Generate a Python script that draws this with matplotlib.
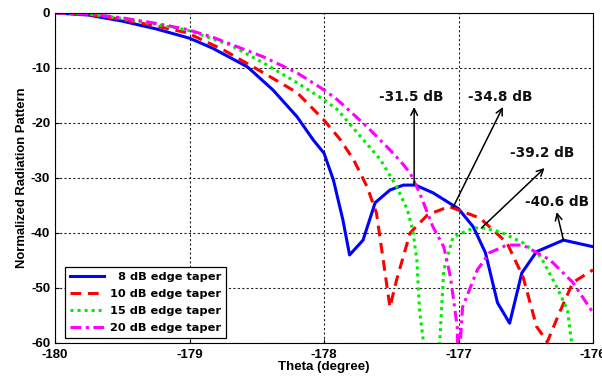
import numpy as np
import matplotlib
matplotlib.use('Agg')
import matplotlib.pyplot as plt

plt.rcParams['axes.unicode_minus'] = False

# readings from the reference picture (theta in degree, pattern in dB)
theta_8 = [-180, -179.75, -179.5, -179.25, -179.0, -178.83, -178.57, -178.38, -178.2,
           -178.08, -178.0, -177.93, -177.86, -177.81, -177.71, -177.62, -177.51,
           -177.41, -177.32, -177.19, -177.0, -176.89, -176.8, -176.71, -176.62,
           -176.53, -176.42, -176.22, -176.0]
gain_8 = [0, -0.4, -1.5, -2.9, -4.6, -6.4, -9.8, -14.0, -18.9,
          -23.1, -25.5, -30.4, -37.6, -44.0, -41.3, -34.5, -32.2,
          -31.3, -31.3, -32.7, -35.6, -38.9, -43.6, -52.7, -56.4,
          -47.3, -43.4, -41.3, -42.5]

theta_10 = [-180, -179.75, -179.5, -179.25, -179.02, -178.75, -178.45, -178.2, -178.0,
            -177.88, -177.78, -177.68, -177.61, -177.56, -177.51, -177.46, -177.36,
            -177.23, -177.07, -176.84, -176.64, -176.52, -176.42, -176.34, -176.25,
            -176.15, -176.0]
gain_10 = [0, -0.3, -1.2, -2.4, -3.6, -6.7, -10.9, -14.5, -19.5,
           -23.0, -26.7, -31.6, -36.4, -44.9, -53.5, -48.5, -40.0,
           -36.7, -35.2, -37.3, -41.8, -48.0, -57.0, -59.8, -54.5,
           -49.0, -46.7]

theta_15 = [-180, -179.75, -179.5, -179.25, -179.02, -178.7, -178.45, -178.2, -178.0,
            -177.9, -177.58, -177.46, -177.38, -177.34, -177.31, -177.29, -177.26,
            -177.2, -177.14, -177.11, -177.04, -176.89, -176.82, -176.69, -176.52,
            -176.39, -176.27, -176.19, -176.16, -176.13]
gain_15 = [0, -0.2, -1.0, -2.1, -3.1, -5.8, -9.1, -12.7, -15.8,
           -17.6, -26.7, -31.6, -35.8, -39.5, -44.9, -54.0, -60.0,
           -70.0, -60.0, -46.7, -40.7, -39.1, -39.1, -39.8, -41.8,
           -44.3, -49.8, -54.0, -59.8, -68.0]

theta_20 = [-180, -179.75, -179.5, -179.25, -179.02, -178.83, -178.45, -178.2, -178.0,
            -177.9, -177.68, -177.51, -177.43, -177.36, -177.29, -177.19, -177.11,
            -177.06, -177.01, -177.0, -176.97, -176.86, -176.77, -176.64, -176.52,
            -176.32, -176.15, -176.0]
gain_20 = [0, -0.2, -0.9, -1.9, -3.0, -4.4, -8.0, -10.9, -14.0,
           -15.8, -20.7, -24.9, -27.0, -29.1, -32.7, -38.9, -42.5,
           -48.0, -57.0, -65.0, -53.5, -46.7, -43.6, -42.2, -42.2,
           -44.9, -49.0, -54.5]

labels = ['  8 dB edge taper', '10 dB edge taper', '15 dB edge taper', '20 dB edge taper']

# annotation text, arrow tip and tail point
notes = ['-31.5 dB', '-34.8 dB', '-39.2 dB', '-40.6 dB']
note_xy = [(-177.35, -15.3), (-176.69, -15.3), (-176.38, -25.5), (-176.27, -34.4)]
tip_xy = [(-177.33, -17.1), (-176.67, -17.1), (-176.36, -28.2), (-176.27, -36.2)]
tail_xy = [(-177.33, -31.3), (-177.04, -35.3), (-176.83, -39.1), (-176.22, -41.3)]

fig = plt.figure(figsize=(6.02, 3.79), dpi=100)
ax = fig.add_axes([0.0914, 0.095, 0.8937, 0.871])

ax.plot(theta_8, gain_8, color='#0000ff', lw=2.2, ls='-', label=labels[0])
ax.plot(theta_10, gain_10, color='#ff0000', lw=2.2, ls=(0, (3.5, 2.2)), label=labels[1])
ax.plot(theta_15, gain_15, color='#00ee00', lw=2.2, ls=(0, (1, 1.3)), label=labels[2])
ax.plot(theta_20, gain_20, color='#ff00ff', lw=2.2, ls=(0, (3.5, 1.5, 1, 1.5)), label=labels[3])

for txt, nxy, txy, sxy in zip(notes, note_xy, tip_xy, tail_xy):
    ax.annotate('', xy=txy, xytext=sxy,
                arrowprops=dict(arrowstyle='->', lw=1.1, color='black',
                                shrinkA=0, shrinkB=0, mutation_scale=12))
    ax.text(nxy[0], nxy[1], txt, ha='center', va='center', fontsize=9.8,
            fontweight='bold', family='DejaVu Sans', color='#111111')

ax.set_xlim(-180, -176)
ax.set_ylim(-60, 0)
ax.set_xticks(np.arange(-180, -175, 1))
ax.set_yticks(np.arange(-60, 1, 10))
ax.grid(True, ls=(0, (2, 2)), color='#222222', lw=0.8)
ax.tick_params(direction='in', length=3, labelsize=9.5, width=0.8, pad=2.5)
ax.tick_params(axis='x', pad=4)
ax.tick_params(axis='y', pad=3.5)
for lab in ax.get_xticklabels() + ax.get_yticklabels():
    lab.set_fontweight('bold')
    lab.set_family('Liberation Sans')
for sp in ax.spines.values():
    sp.set_linewidth(0.8)

ax.set_xlabel('Theta (degree)', fontsize=9.6, fontweight='bold', family='Liberation Sans', labelpad=0)
ax.set_ylabel('Normalized Radiation Pattern', fontsize=9.4, fontweight='bold', family='Liberation Sans', labelpad=2)

leg = ax.legend(loc='lower left', bbox_to_anchor=(0.018, 0.015), fancybox=False,
                edgecolor='black', framealpha=1, handlelength=3.0, handletextpad=0.5,
                labelspacing=0.6, borderpad=0.45, borderaxespad=0,
                prop={'family': 'DejaVu Sans', 'weight': 'bold', 'size': 8.2})
leg.get_frame().set_linewidth(0.9)

fig.savefig('out.png', dpi=100)
